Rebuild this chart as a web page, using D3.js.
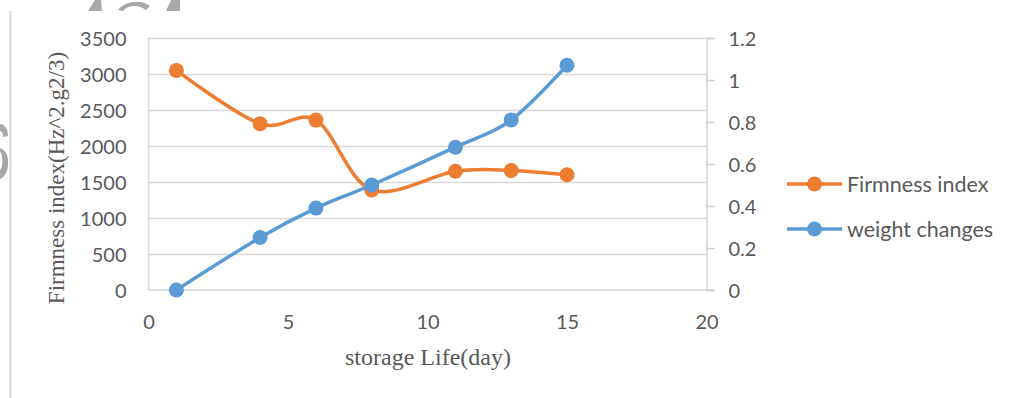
<!DOCTYPE html>
<html>
<head>
<meta charset="utf-8">
<script src="https://cdn.jsdelivr.net/npm/d3@7"></script>
<style>
  html, body { margin: 0; padding: 0; background: #ffffff; }
  svg { display: block; }
</style>
</head>
<body>
<svg id="chart" width="1011" height="398"></svg>
<script>
// Storage days sampled
const days = [1, 4, 6, 8, 11, 13, 15];
// Firmness index (Hz^2.g^2/3), left axis
const firmness = [3050, 2310, 2360, 1390, 1650, 1660, 1600];
// Weight changes, right axis
const weightChanges = [0, 0.25, 0.39, 0.50, 0.68, 0.81, 1.07];

const xTicks = [0, 5, 10, 15, 20];
const leftTicks = [0, 500, 1000, 1500, 2000, 2500, 3000, 3500];
const rightTicks = [0, 0.2, 0.4, 0.6, 0.8, 1, 1.2];

const seriesNames = ["Firmness index", "weight changes"];
const seriesColors = ["#ED7D31", "#5B9BD5"];

const svg = d3.select("#chart");
const textColor = "#595959";
const gridColor = "#d9d9d9";
const tickFont = "Lato, 'Open Sans', sans-serif";
const titleFont = "'Liberation Serif', 'Times New Roman', serif";

const plot = { left: 148.5, right: 706.5, top: 38, bottom: 290 };

const x = d3.scaleLinear().domain([0, 20]).range([plot.left, plot.right]);
const yL = d3.scaleLinear().domain([0, 3500]).range([plot.bottom, plot.top]);
const yR = d3.scaleLinear().domain([0, 1.2]).range([plot.bottom, plot.top]);

// page border line on the left and faint watermark fragments
svg.append("line")
  .attr("x1", 10.5).attr("x2", 10.5).attr("y1", 11).attr("y2", 398)
  .attr("stroke", "#d6d6d6").attr("stroke-width", 2);
const wm = svg.append("g").attr("fill", "#a8a8a8");
wm.append("path").attr("d", "M88,11 L95,0 L101,0 L102,11 Z");
wm.append("path").attr("d", "M118,10 C124,2 140,-2 150,6 L146,10 C138,4 128,5 123,11 Z");
wm.append("path").attr("d", "M166,11 L171,0 L180,0 L180,11 Z");
wm.append("path").attr("d", "M0,124 C5,124 8,130 8,136 L3,137 C3,133 2,131 0,131 Z M0,148 C6,150 9,156 8,166 C7,174 3,178 0,179 L0,170 C2,168 3,164 2,158 C2,154 1,152 0,152 Z");

// horizontal gridlines
svg.append("g").selectAll("line").data(leftTicks.slice(1)).join("line")
  .attr("x1", plot.left).attr("x2", plot.right)
  .attr("y1", d => Math.round(yL(d)) + 0.5).attr("y2", d => Math.round(yL(d)) + 0.5)
  .attr("stroke", gridColor).attr("stroke-width", 1.5);

// left axis line
svg.append("line")
  .attr("x1", plot.left).attr("x2", plot.left)
  .attr("y1", plot.top).attr("y2", plot.bottom)
  .attr("stroke", gridColor).attr("stroke-width", 1.5);

// bottom axis line
svg.append("line")
  .attr("x1", plot.left).attr("x2", plot.right + 8)
  .attr("y1", plot.bottom).attr("y2", plot.bottom)
  .attr("stroke", "#d0d0d0").attr("stroke-width", 1.5);

// right axis with outward ticks
const rightAxis = d3.axisRight(yR).tickValues(rightTicks).tickSize(8).tickPadding(14)
  .tickFormat(d => d3.format("~g")(d));
const ra = svg.append("g").attr("transform", `translate(${plot.right},0)`).call(rightAxis);
ra.select(".domain").attr("stroke", "#d0d0d0").attr("stroke-width", 1.5);
ra.selectAll(".tick line").attr("stroke", "#d0d0d0").attr("stroke-width", 1.5);
ra.selectAll(".tick text")
  .attr("fill", textColor).attr("font-family", tickFont).attr("font-size", 20)
  .attr("dy", "0.36em");

// left axis labels
const la = d3.axisLeft(yL).tickValues(leftTicks).tickSize(0).tickPadding(22)
  .tickFormat(d3.format("d"));
const lg = svg.append("g").attr("transform", `translate(${plot.left},0)`).call(la);
lg.select(".domain").remove();
lg.selectAll(".tick text")
  .attr("fill", textColor).attr("font-family", tickFont).attr("font-size", 20)
  .attr("dy", "0.36em");

// bottom axis labels
const ba = d3.axisBottom(x).tickValues(xTicks).tickSize(0).tickPadding(25)
  .tickFormat(d3.format("d"));
const bg = svg.append("g").attr("transform", `translate(0,${plot.bottom})`).call(ba);
bg.select(".domain").remove();
bg.selectAll(".tick text")
  .attr("fill", textColor).attr("font-family", tickFont).attr("font-size", 20);

// axis titles
svg.append("text")
  .attr("transform", `translate(64,178) rotate(-90)`)
  .attr("text-anchor", "middle")
  .attr("fill", textColor).attr("font-family", titleFont).attr("font-size", 23)
  .text("Firmness index(Hz^2.g2/3)");
svg.append("text")
  .attr("x", 428).attr("y", 365)
  .attr("text-anchor", "middle")
  .attr("fill", textColor).attr("font-family", titleFont).attr("font-size", 24)
  .text("storage Life(day)");

// series
const series = [
  { name: seriesNames[0], color: seriesColors[0], values: firmness, y: yL },
  { name: seriesNames[1], color: seriesColors[1], values: weightChanges, y: yR }
];

series.forEach(s => {
  const pts = days.map((d, i) => [x(d), s.y(s.values[i])]);
  const line = d3.line().curve(d3.curveCatmullRom.alpha(0));
  const g = svg.append("g");
  g.append("path").attr("d", line(pts))
    .attr("fill", "none").attr("stroke", s.color).attr("stroke-width", 3.5)
    .attr("stroke-linejoin", "round").attr("stroke-linecap", "round");
  g.selectAll("circle").data(pts).join("circle")
    .attr("cx", p => p[0]).attr("cy", p => p[1]).attr("r", 7.5)
    .attr("fill", s.color);
});

// legend
const legend = svg.append("g");
series.forEach((s, i) => {
  const ly = 184 + i * 45;
  legend.append("line")
    .attr("x1", 787).attr("x2", 842).attr("y1", ly).attr("y2", ly)
    .attr("stroke", s.color).attr("stroke-width", 3.5);
  legend.append("circle").attr("cx", 814.5).attr("cy", ly).attr("r", 7.5).attr("fill", s.color);
  legend.append("text")
    .attr("x", 847).attr("y", ly).attr("dy", "0.36em")
    .attr("fill", textColor).attr("font-family", tickFont).attr("font-size", 21.5)
    .text(s.name);
});
</script>
</body>
</html>
